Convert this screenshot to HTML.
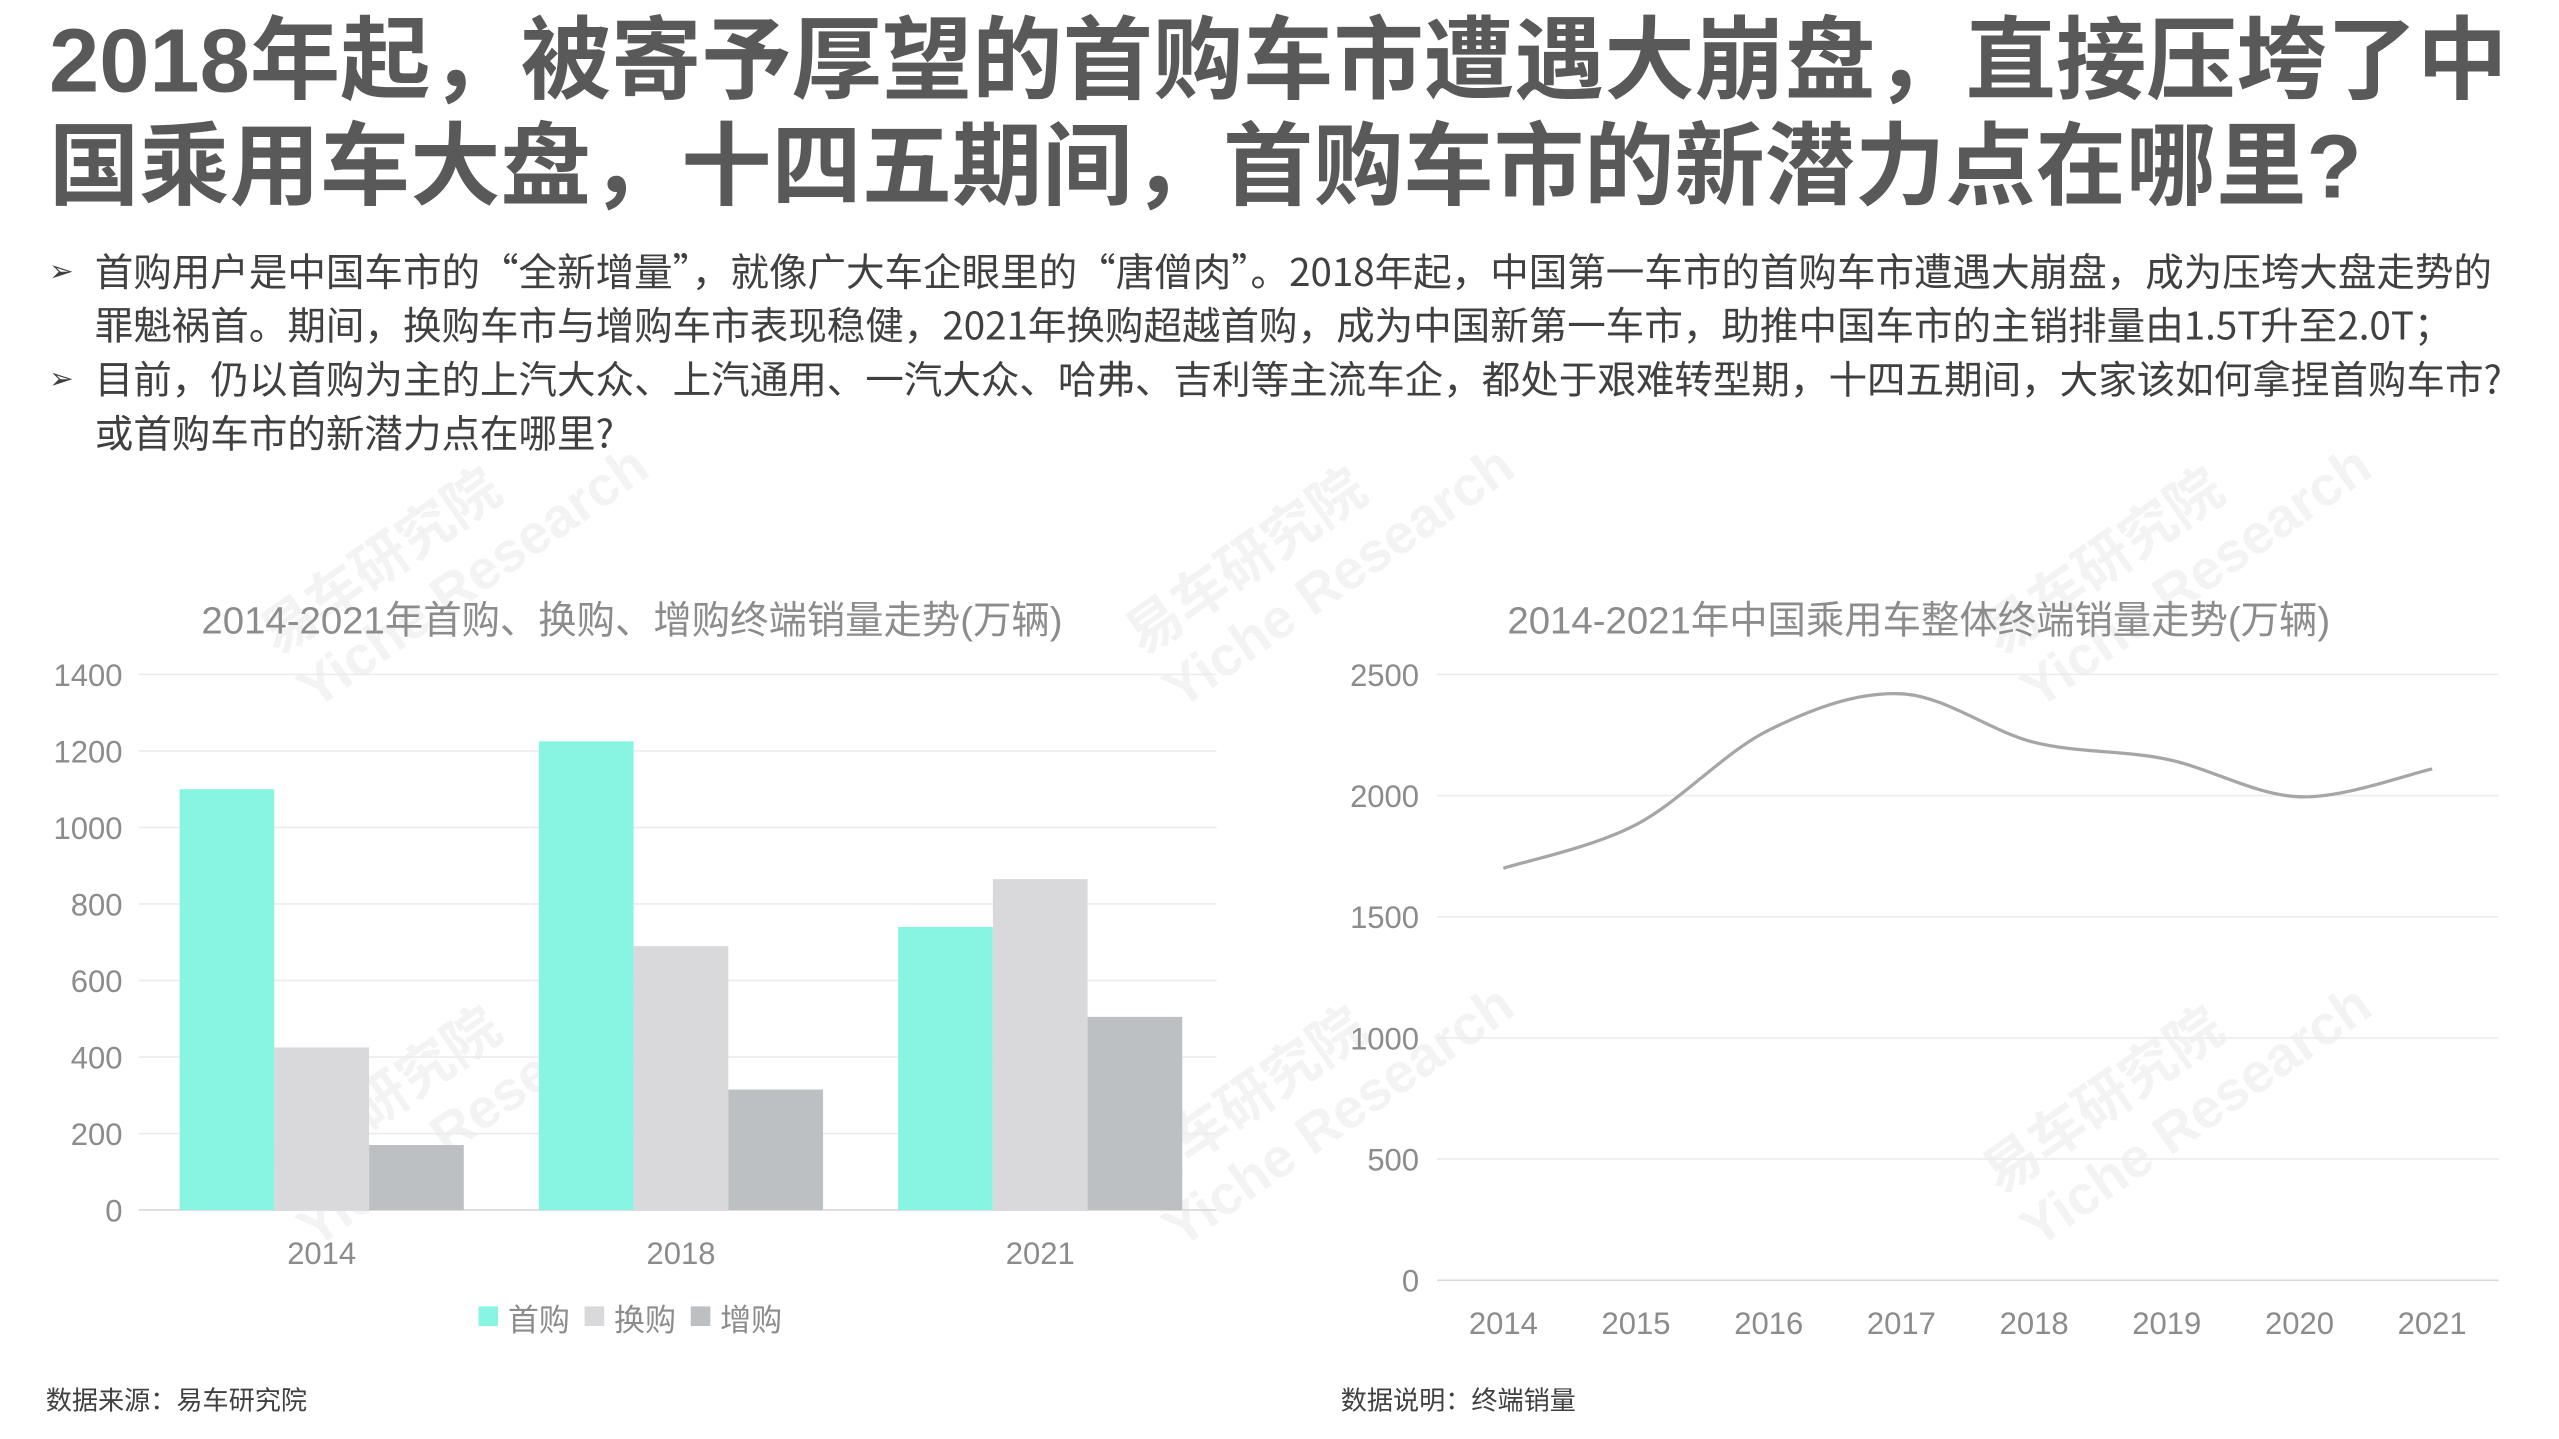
<!DOCTYPE html>
<html><head><meta charset="utf-8">
<style>
html,body{margin:0;padding:0;background:#fff;}
body{width:2559px;height:1439px;overflow:hidden;position:relative;}
#stage{position:absolute;left:0;top:0;width:1560px;height:877px;transform:scale(1.633);transform-origin:0 0;font-family:"Liberation Sans","Noto Sans CJK SC",sans-serif;}
.abs{position:absolute;white-space:nowrap;}
h1{position:absolute;left:30px;top:5px;margin:0;font-size:55.3px;line-height:65px;font-weight:bold;color:#595959;white-space:nowrap;}
.bl{position:absolute;left:30px;font-size:23.6px;line-height:33px;color:#404040;white-space:nowrap;font-family:"Noto Sans CJK SC","Liberation Sans",sans-serif;}
.bl .m{position:absolute;left:0;top:0;font-size:18px;}
.bl div{padding-left:28px;}
svg text{font-family:"Liberation Sans","Noto Sans CJK SC",sans-serif;}
.wm{position:absolute;color:rgba(200,200,200,0.22);font-weight:bold;transform:rotate(-35deg);font-size:34px;white-space:nowrap;}
</style></head><body>
<div id="stage">
<h1>2018年起，被寄予厚望的首购车市遭遇大崩盘，直接压垮了中<br>国乘用车大盘，十四五期间，首购车市的新潜力点在哪里?</h1>
<div class="bl" style="top:149px"><span class="m">➢</span><div>首购用户是中国车市的“全新增量”，就像广大车企眼里的“唐僧肉”。2018年起，中国第一车市的首购车市遭遇大崩盘，成为压垮大盘走势的</div><div>罪魁祸首。期间，换购车市与增购车市表现稳健，2021年换购超越首购，成为中国新第一车市，助推中国车市的主销排量由1.5T升至2.0T；</div></div>
<div class="bl" style="top:215px"><span class="m">➢</span><div>目前，仍以首购为主的上汽大众、上汽通用、一汽大众、哈弗、吉利等主流车企，都处于艰难转型期，十四五期间，大家该如何拿捏首购车市?</div><div>或首购车市的新潜力点在哪里?</div></div>
<div class="wm" style="left:150px;top:290px">易车研究院<br>Yiche Research</div>
<div class="wm" style="left:680px;top:290px">易车研究院<br>Yiche Research</div>
<div class="wm" style="left:1205px;top:290px">易车研究院<br>Yiche Research</div>
<div class="wm" style="left:150px;top:620px">易车研究院<br>Yiche Research</div>
<div class="wm" style="left:680px;top:620px">易车研究院<br>Yiche Research</div>
<div class="wm" style="left:1205px;top:620px">易车研究院<br>Yiche Research</div>
<svg id="c1" class="abs" style="left:0;top:0" width="1560" height="877"></svg>
<svg id="c2" class="abs" style="left:0;top:0" width="1560" height="877"></svg>
<div class="abs" style="left:28px;top:844px;font-size:16px;color:#404040">数据来源：易车研究院</div>
<div class="abs" style="left:821px;top:844px;font-size:16px;color:#404040">数据说明：终端销量</div>
</div>
<script>
const barCats=["2014","2018","2021"];
const firstBuy=[1100,1225,740];
const replaceBuy=[425,690,865];
const addBuy=[170,315,505];
const barTicks=[0,200,400,600,800,1000,1200,1400];
const lineCats=["2014","2015","2016","2017","2018","2019","2020","2021"];
const lineVals=[1700,1880,2270,2420,2220,2150,1995,2110];
const lineTicks=[0,500,1000,1500,2000,2500];
const NS="http://www.w3.org/2000/svg";
function mk(p,t,a,txt){const e=document.createElementNS(NS,t);for(const k in a)e.setAttribute(k,a[k]);if(txt!==undefined)e.textContent=txt;p.appendChild(e);return e;}
(function(){
const s=document.getElementById('c1');
const x0=87,x1=747,yTop=413,yBot=741,max=1400;
const y=v=>yBot-(v/max)*(yBot-yTop);
const gw=(x1-x0)/barCats.length,bw=58;
let t=mk(s,'text',{x:387,y:388,'text-anchor':'middle','font-size':23.5,fill:'#8c8c8c'},'2014-2021年首购、换购、增购终端销量走势(万辆)');


barTicks.forEach(v=>{
 const l=mk(s,'line',{x1:x0-2,x2:x1-2,y1:y(v),y2:y(v),stroke:v===0?'#d9d9d9':'#ececec','stroke-width':1});
 
 
 const tx=mk(s,'text',{x:75,y:y(v)+7,'text-anchor':'end','font-size':19,fill:'#8c8c8c'},String(v));
 
 
});
const series=[[firstBuy,'#88F5E3','first'],[replaceBuy,'#D9D9DB','replace'],[addBuy,'#BDC0C3','add']];
barCats.forEach((c,i)=>{
 const cx=x0+gw*(i+0.5);
 series.forEach((sr,j)=>{
  const v=sr[0][i];
  const r=mk(s,'rect',{x:cx-1.5*bw+j*bw,y:y(v),width:bw,height:yBot-y(v),fill:sr[1]});
  
  
 });
 const tx=mk(s,'text',{x:cx,y:774,'text-anchor':'middle','font-size':19,fill:'#8c8c8c'},c);
 
 
});
const leg=[['首购','#88F5E3',293],['换购','#D9D9DB',358],['增购','#BDC0C3',423]];
leg.forEach(l=>{
 const g=mk(s,'g',{});
 
 
 mk(g,'rect',{x:l[2],y:800,width:12,height:12,fill:l[1]});
 mk(g,'text',{x:l[2]+18,y:815,'font-size':19,fill:'#8c8c8c'},l[0]);
});
})();
(function(){
const s=document.getElementById('c2');
const x0=880,x1=1530,yTop=413,yBot=784,max=2500;
const y=v=>yBot-(v/max)*(yBot-yTop);
const step=(x1-x0)/lineCats.length;
const x=i=>x0+step*(i+0.5);
let t=mk(s,'text',{x:1175,y:388,'text-anchor':'middle','font-size':23.5,fill:'#8c8c8c'},'2014-2021年中国乘用车整体终端销量走势(万辆)');


lineTicks.forEach(v=>{
 const l=mk(s,'line',{x1:x0,x2:x1,y1:y(v),y2:y(v),stroke:v===0?'#d9d9d9':'#ececec','stroke-width':1});
 
 
 const tx=mk(s,'text',{x:869,y:y(v)+7,'text-anchor':'end','font-size':19,fill:'#8c8c8c'},String(v));
 
 
});
lineCats.forEach((c,i)=>{
 const tx=mk(s,'text',{x:x(i),y:817,'text-anchor':'middle','font-size':19,fill:'#8c8c8c'},c);
 
 
});
const P=lineVals.map((v,i)=>[x(i),y(v)]);
let d='M'+P[0][0]+','+P[0][1];
for(let i=0;i<P.length-1;i++){
 const p0=P[Math.max(i-1,0)],p1=P[i],p2=P[i+1],p3=P[Math.min(i+2,P.length-1)];
 const k=1/6;
 d+=' C'+(p1[0]+(p2[0]-p0[0])*k)+','+(p1[1]+(p2[1]-p0[1])*k)+' '+(p2[0]-(p3[0]-p1[0])*k)+','+(p2[1]-(p3[1]-p1[1])*k)+' '+p2[0]+','+p2[1];
}
const pth=mk(s,'path',{d:d,fill:'none',stroke:'#a6a6a6','stroke-width':2});


})();
</script>
</body></html>
